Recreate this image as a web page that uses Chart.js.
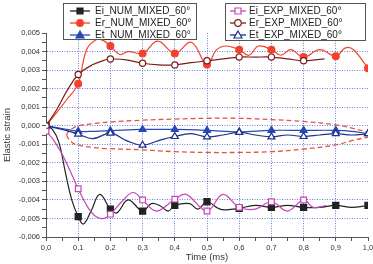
<!DOCTYPE html>
<html>
<head>
<meta charset="utf-8">
<script src="https://cdn.jsdelivr.net/npm/chart.js@4.4.1/dist/chart.umd.min.js"></script>
<style>
  html, body { margin: 0; padding: 0; background: #fff; overflow: hidden; }
  #wrap { width: 380px; height: 264px; }
</style>
</head>
<body>
<div id="wrap"><canvas id="strain" width="380" height="264"></canvas></div>
<script>
// [time (ms), elastic strain]
const eiNum = [[0,0],[0.02,-0.0002],[0.04,-0.0009],[0.06,-0.0025],[0.08,-0.004],[0.1,-0.0049],[0.116,-0.0053],[0.14,-0.0046],[0.167,-0.0037],[0.2,-0.0045],[0.22,-0.0047],[0.255,-0.004],[0.3,-0.0046],[0.327,-0.0042],[0.353,-0.0043],[0.379,-0.0046],[0.4,-0.0043],[0.446,-0.0042],[0.472,-0.0045],[0.5,-0.0041],[0.54,-0.0045],[0.58,-0.0045],[0.6,-0.00445],[0.65,-0.0043],[0.7,-0.0044],[0.75,-0.0043],[0.8,-0.0044],[0.85,-0.0044],[0.9,-0.0043],[0.95,-0.0044],[1.0,-0.0043]];
const erNum = [[0,0],[0.033,0.0007],[0.064,0.0014],[0.1,0.00227],[0.126,0.0041],[0.157,0.00465],[0.177,0.0046],[0.2,0.0043],[0.229,0.00384],[0.255,0.004],[0.3,0.0039],[0.347,0.00456],[0.4,0.0039],[0.451,0.0045],[0.5,0.0033],[0.53,0.0041],[0.56,0.0043],[0.6,0.0041],[0.63,0.0038],[0.66,0.0043],[0.7,0.0041],[0.73,0.0038],[0.76,0.0041],[0.8,0.0037],[0.85,0.0041],[0.9,0.00375],[0.93,0.0042],[0.955,0.0041],[1.0,0.0031]];
const etNum = [[0,0],[0.05,-0.00015],[0.1,-0.0003],[0.15,-0.0003],[0.2,-0.00027],[0.3,-0.0002],[0.4,-0.0002],[0.5,-0.00025],[0.6,-0.00033],[0.7,-0.00025],[0.8,-0.00025],[0.9,-0.00025],[0.95,-0.0003],[1.0,-0.00043]];
const eiExp = [[0,-0.0003],[0.023,-0.00076],[0.049,-0.0015],[0.074,-0.0024],[0.1,-0.0034],[0.13,-0.0044],[0.155,-0.0049],[0.18,-0.005],[0.2,-0.00477],[0.235,-0.0041],[0.27,-0.0036],[0.3,-0.004],[0.343,-0.0046],[0.4,-0.00396],[0.435,-0.0037],[0.5,-0.0046],[0.549,-0.0037],[0.6,-0.0044],[0.65,-0.0045],[0.7,-0.0041],[0.75,-0.0046],[0.8,-0.004],[0.83,-0.0044],[0.87,-0.0043]];
const erExp = [[0,0],[0.033,0.00086],[0.064,0.00185],[0.1,0.00276],[0.146,0.0033],[0.188,0.00357],[0.2,0.0036],[0.25,0.00355],[0.3,0.00337],[0.35,0.00328],[0.4,0.00328],[0.45,0.0034],[0.5,0.0035],[0.55,0.0036],[0.6,0.0037],[0.65,0.0037],[0.7,0.0037],[0.75,0.0036],[0.8,0.0035],[0.835,0.00355],[0.865,0.0036]];
const etExp = [[0,0],[0.05,-0.0002],[0.1,-0.00045],[0.145,-0.0007],[0.2,-0.0004],[0.25,-0.0008],[0.3,-0.00105],[0.35,-0.0008],[0.4,-0.00058],[0.45,-0.00043],[0.5,-0.0006],[0.55,-0.0005],[0.6,-0.00036],[0.65,-0.0005],[0.7,-0.0006],[0.75,-0.0005],[0.8,-0.00058],[0.85,-0.0005],[0.9,-0.00043],[0.95,-0.0005],[1.0,-0.00043]];
// dashed ellipse round the transmitted strains
const ellipseTop = [[0.064,-0.0005],[0.07,-0.0003],[0.085,-0.00012],[0.1,0],[0.15,0.00012],[0.2,0.0002],[0.3,0.0003],[0.4,0.00036],[0.5,0.0004],[0.6,0.0004],[0.7,0.00033],[0.8,0.00023],[0.9,0.00005],[0.95,-0.00013],[1.0,-0.00036]];
const ellipseBottom = [[0.064,-0.0005],[0.07,-0.0007],[0.085,-0.00095],[0.1,-0.00105],[0.15,-0.00118],[0.2,-0.00124],[0.3,-0.0013],[0.4,-0.0014],[0.5,-0.00144],[0.6,-0.00144],[0.7,-0.0014],[0.8,-0.00126],[0.9,-0.00103],[0.95,-0.0008],[1.0,-0.00062]];

const seriesNames = ['Ei_NUM_MIXED_60°', 'Er_NUM_MIXED_60°', 'Et_NUM_MIXED_60°', 'Ei_EXP_MIXED_60°', 'Er_EXP_MIXED_60°', 'Et_EXP_MIXED_60°'];
const xTicks = [0, 1];
const yRange = [-0.006, 0.005];

const pts = arr => arr.map(p => ({x: p[0], y: p[1]}));
const onTenth = t => Math.abs(t * 10 - Math.round(t * 10)) < 1e-6;

function series(name, arr, color, style, open, r, order) {
  return {
    label: name,
    data: pts(arr),
    borderColor: color,
    borderWidth: 1.2,
    tension: 0.4,
    pointStyle: style,
    pointRadius: c => onTenth(c.raw.x) ? r : 0,
    pointHoverRadius: 0,
    pointBorderColor: color,
    pointBackgroundColor: open ? '#fff' : color,
    pointBorderWidth: 1.2,
    order: order
  };
}

function dashed(arr) {
  return {
    label: '',
    data: pts(arr),
    borderColor: '#e2553f',
    borderWidth: 1.3,
    borderDash: [5, 3],
    tension: 0.4,
    pointRadius: 0,
    order: 10
  };
}

function drawMark(ctx, style, x, y, color, open) {
  ctx.beginPath();
  if (style === 'rect') ctx.rect(x - 3, y - 3, 6, 6);
  else if (style === 'circle') ctx.arc(x, y, 3.3, 0, Math.PI * 2);
  else { ctx.moveTo(x, y - 4); ctx.lineTo(x + 4, y + 3); ctx.lineTo(x - 4, y + 3); ctx.closePath(); }
  ctx.fillStyle = open ? '#fff' : color;
  ctx.fill();
  ctx.lineWidth = 1.2;
  ctx.strokeStyle = color;
  ctx.stroke();
}

const boxLegend = {
  id: 'boxLegend',
  afterDatasetsDraw(chart) {
    const ctx = chart.ctx;
    const boxes = [
      {x: 63, y: 3, w: 133, h: 36, lx0: 70, lx1: 90, tx: 95, idx: [0, 1, 2]},
      {x: 225, y: 3, w: 140, h: 37, lx0: 230, lx1: 246, tx: 249, idx: [3, 4, 5]}
    ];
    ctx.save();
    boxes.forEach(b => {
      ctx.fillStyle = '#fff';
      ctx.fillRect(b.x, b.y, b.w, b.h);
      ctx.lineWidth = 1;
      ctx.strokeStyle = '#555';
      ctx.strokeRect(b.x + 0.5, b.y + 0.5, b.w, b.h);
      b.idx.forEach((i, k) => {
        const ds = chart.data.datasets[i];
        const y = b.y + 8 + k * 12;
        ctx.beginPath();
        ctx.moveTo(b.lx0, y);
        ctx.lineTo(b.lx1, y);
        ctx.lineWidth = 1.3;
        ctx.strokeStyle = ds.borderColor;
        ctx.stroke();
        drawMark(ctx, ds.pointStyle, (b.lx0 + b.lx1) / 2, y, ds.borderColor, ds.pointBackgroundColor === '#fff');
        ctx.fillStyle = '#222';
        ctx.font = '10px "Liberation Sans", Arial, sans-serif';
        ctx.textBaseline = 'middle';
        ctx.textAlign = 'left';
        ctx.fillText(ds.label, b.tx, y + 0.5);
      });
    });
    ctx.restore();
  }
};

const gridBlue = 'rgba(70, 95, 205, 0.8)';
const tickFont = {family: '"Liberation Sans", Arial, sans-serif', size: 7.5};
const titleFont = {family: '"Liberation Sans", Arial, sans-serif', size: 9.5};

const chart = new Chart(document.getElementById('strain').getContext('2d'), {
  type: 'line',
  data: {
    datasets: [
      series(seriesNames[0], eiNum, '#222222', 'rect', false, 4.3, 4),
      series(seriesNames[1], erNum, '#f2422c', 'circle', false, 3.4, 5),
      series(seriesNames[2], etNum, '#2648b8', 'triangle', false, 4, 6),
      series(seriesNames[3], eiExp, '#c545b8', 'rect', true, 4, 1),
      series(seriesNames[4], erExp, '#7c1f1a', 'circle', true, 3.1, 2),
      series(seriesNames[5], etExp, '#1d2f8a', 'triangle', true, 4, 3),
      dashed(ellipseTop),
      dashed(ellipseBottom)
    ]
  },
  options: {
    responsive: false,
    animation: false,
    layout: { padding: { top: 33, right: 12, left: 0, bottom: 0 } },
    plugins: { legend: { display: false }, tooltip: { enabled: false } },
    scales: {
      x: {
        type: 'linear',
        min: xTicks[0],
        max: xTicks[1],
        afterFit: s => { s.height = 27; },
        ticks: {
          stepSize: 0.05,
          autoSkip: false,
          maxRotation: 0,
          padding: 2,
          color: '#333',
          font: tickFont,
          callback: v => {
            const k = Math.round(v * 20);
            return k % 2 === 0 ? (k / 20).toFixed(1).replace('.', ',') : '';
          }
        },
        grid: {
          color: c => {
            const k = Math.round(c.tick.value * 20);
            return (k % 2 === 0 && k > 0 && k < 20) ? gridBlue : 'rgba(0,0,0,0)';
          },
          tickColor: '#555',
          tickLength: 4
        },
        border: { color: '#555', width: 1, dash: [1, 1.5] },
        title: {
          display: true,
          text: 'Time (ms)',
          color: '#333',
          font: titleFont,
          padding: { top: 0, bottom: 1 }
        }
      },
      y: {
        min: yRange[0],
        max: yRange[1],
        afterFit: s => { s.width = 46; },
        ticks: {
          stepSize: 0.0005,
          autoSkip: false,
          padding: 2,
          color: '#333',
          font: tickFont,
          callback: v => {
            const k = Math.round(v * 2000);
            return k % 2 === 0 ? (k / 2000).toFixed(3).replace('.', ',') : '';
          }
        },
        grid: {
          color: c => {
            const k = Math.round(c.tick.value * 2000);
            return (k % 2 === 0 && k > -12 && k < 10) ? gridBlue : 'rgba(0,0,0,0)';
          },
          tickColor: '#555',
          tickLength: 4
        },
        border: { color: '#555', width: 1, dash: [1, 1.5] },
        title: {
          display: true,
          text: 'Elastic strain',
          color: '#333',
          font: titleFont,
          padding: { top: 2, bottom: 0 }
        }
      }
    }
  },
  plugins: [boxLegend]
});
</script>
</body>
</html>
